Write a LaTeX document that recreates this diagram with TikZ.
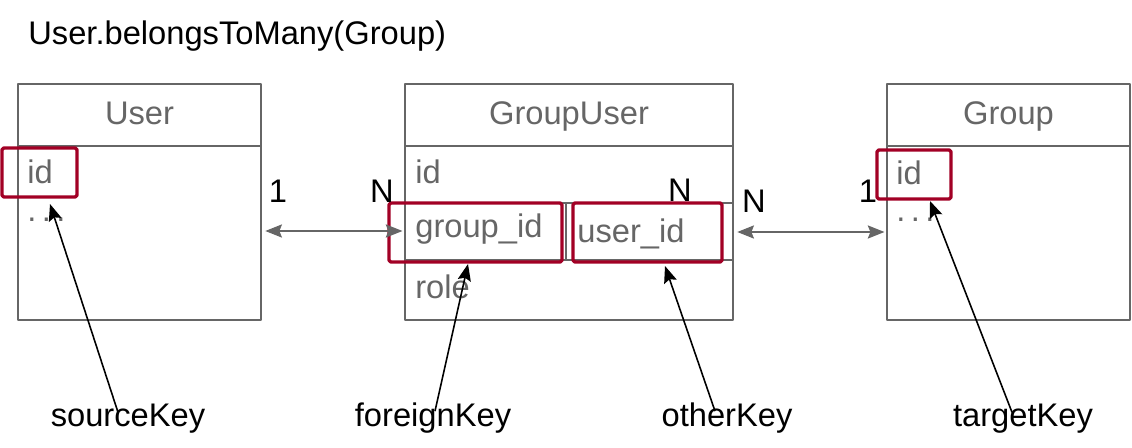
\documentclass[tikz,border=0pt]{standalone}
\usepackage{fontspec}
\setmainfont{Liberation Sans}
\usetikzlibrary{arrows.meta,fit,positioning}
\definecolor{tblgray}{HTML}{666666}
\definecolor{keyred}{HTML}{A20025}
\begin{document}
\begin{tikzpicture}[x=0.02cm, y=-0.02cm, font=\fontsize{18.6}{22}\selectfont, line join=round, >={Stealth[length=9.5pt,width=7.5pt,inset=1.5pt]},
	tbl/.style={draw=tblgray, line width=0.9pt, inner sep=0pt},
	keybox/.style={draw=keyred, line width=1.9pt, rounded corners=1pt, inner sep=0pt},
	cell/.style={text=tblgray, anchor=base west, inner sep=0pt},
	head/.style={text=tblgray, anchor=base, inner sep=0pt},
	card/.style={anchor=base, inner sep=0pt},
	rel/.style={<->, draw=tblgray, line width=0.9pt, shorten <=2pt, shorten >=1pt},
	ptr/.style={->, line width=0.9pt}]
	\useasboundingbox (0,0) rectangle (1132,448);
	\node[anchor=base west, inner sep=0pt] (title) at (28,45) {User.belongsToMany(Group)};
	% tables
	\node[tbl, fit={(18,84)(261,320)}] (user) {};
	\node[tbl, fit={(405,84)(733,320)}] (gu) {};
	\node[tbl, fit={(887,84)(1130,320)}] (group) {};
	\draw[tblgray, line width=0.9pt] (18,146)--(261,146) (405,146)--(733,146) (887,146)--(1130,146)
		(405,203)--(733,203) (405,260)--(733,260) (566,203)--(566,260);
	\node[head] (userh) at (139.5,125) {User};
	\node[head] (guh) at (569,125) {GroupUser};
	\node[head] (grouph) at (1008.5,125) {Group};
	% cells
	\node[cell] (uid) at (27,184) {id};
	\node[cell] (udots) at (27,222) {.\,.\,.};
	\node[cell] (guid) at (415,184) {id};
	\node[cell] (gugid) at (415,238) {group\_id};
	\node[cell] (guuid) at (577,243) {user\_id};
	\node[cell] (gurole) at (415,299) {role};
	\node[cell] (gid) at (896,185) {id};
	\node[cell] (gdots) at (896,222) {.\,.\,.};
	% keys
	\node[keybox, fit={(2,148)(77,197)}] (userkey) {};
	\node[keybox, fit={(389,203)(562,262)}] (fkey) {};
	\node[keybox, fit={(573,203)(722,262)}] (okey) {};
	\node[keybox, fit={(877,150)(951,199)}] (groupkey) {};
	% relations
	\draw[rel] (user.east |- 0,231) -- (gu.west |- 0,231);
	\draw[rel] (gu.east |- 0,232) -- (group.west |- 0,232);
	\node[card] (c1) at (278,203) {1};
	\node[card] (c2) at (382,203) {N};
	\node[card] (c3) at (680,202) {N};
	\node[card] (c4) at (754,213) {N};
	\node[card] (c5) at (868,203) {1};
	% labels
	\node[anchor=base] (src) at (128,427) {sourceKey};
	\node[anchor=base] (fk) at (433,427) {foreignKey};
	\node[anchor=base] (ok) at (727,427) {otherKey};
	\node[anchor=base] (tk) at (1023,427) {targetKey};
	\coordinate (t1) at (50,204);
	\coordinate (t2) at (468,264);
	\coordinate (t3) at (665,266);
	\coordinate (t4) at (930,201);
	\draw[ptr] (src.north) ++(-10,14) -- (t1);
	\draw[ptr] (fk.north) ++(2,14) -- (t2);
	\draw[ptr] (ok.north) ++(-12,14) -- (t3);
	\draw[ptr] (tk.north) ++(-11,14) -- (t4);
\end{tikzpicture}
\end{document}
